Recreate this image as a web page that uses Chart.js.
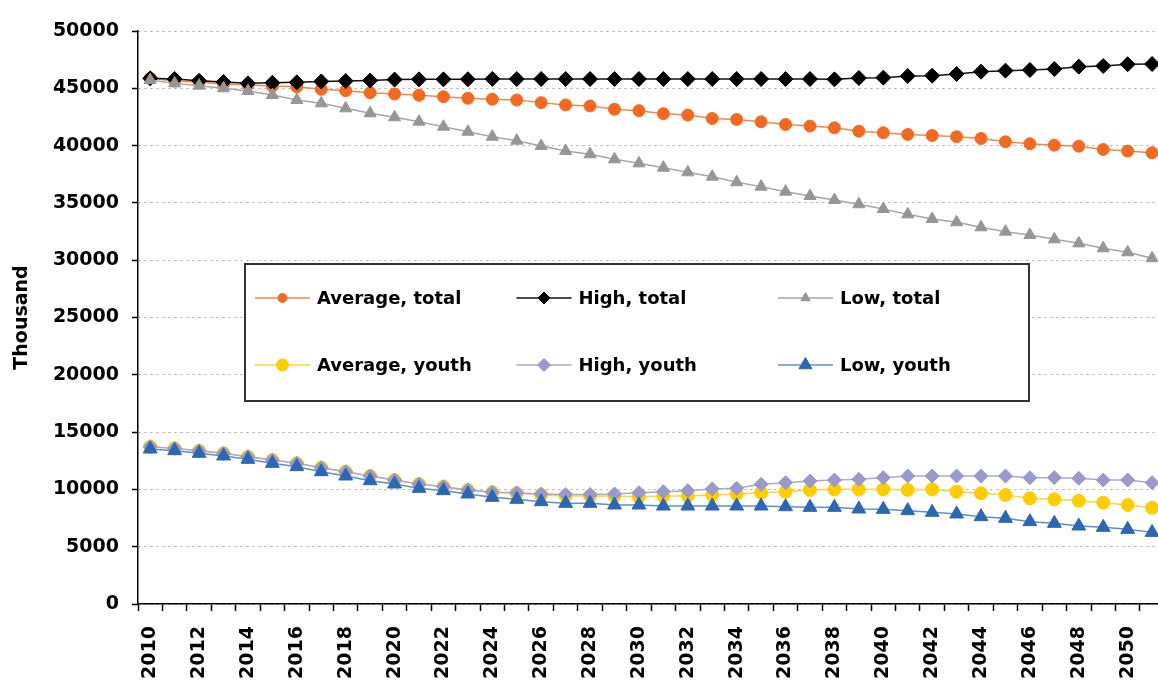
<!DOCTYPE html>
<html>
<head>
<meta charset="utf-8">
<title>Population projections</title>
<script src="https://cdn.jsdelivr.net/npm/chart.js"></script>
<style>
    html, body {
        margin: 0;
        padding: 0;
        background: #ffffff;
        overflow: hidden;
    }
    #wrap {
        position: relative;
        width: 1190px;
        height: 680px;
    }
</style>
</head>
<body>
<div id="wrap">
    <canvas id="chart"></canvas>
</div>
<script>
const years = [];
for (let y = 2010; y <= 2051; y++) {
    years.push(String(y));
}

const yTicks = { min: 0, max: 50000, step: 5000 };

const averageTotal = [
    45870, 45640, 45520, 45375, 45290, 45200, 45140, 44910, 44790, 44620, 44500,
    44390, 44270, 44130, 44040, 43980, 43750, 43550, 43460, 43170, 43050,
    42780, 42660, 42370, 42280, 42080, 41840, 41700, 41550, 41260, 41120,
    40970, 40880, 40770, 40620, 40330, 40160, 40040, 39950, 39660, 39520, 39370
];

const highTotal = [
    45870, 45810, 45660, 45550, 45430, 45480, 45520, 45600, 45640, 45680, 45760,
    45780, 45780, 45790, 45820, 45810, 45810, 45810, 45810, 45810, 45810,
    45810, 45810, 45810, 45810, 45810, 45810, 45810, 45780, 45900, 45930,
    46070, 46100, 46250, 46450, 46540, 46600, 46680, 46890, 46950, 47100, 47120
];

const lowTotal = [
    45720, 45430, 45230, 45000, 44760, 44420, 43980, 43690, 43250, 42820, 42470,
    42090, 41650, 41210, 40780, 40430, 39970, 39530, 39240, 38800, 38450,
    38070, 37670, 37290, 36800, 36420, 35980, 35600, 35250, 34880, 34470,
    34000, 33600, 33310, 32870, 32490, 32200, 31820, 31470, 31040, 30690, 30170
];

const averageYouth = [
    13730, 13580, 13380, 13150, 12855, 12565, 12275, 11895, 11545, 11170, 10820,
    10470, 10240, 9950, 9745, 9660, 9510, 9425, 9425, 9425, 9365,
    9425, 9425, 9510, 9600, 9715, 9800, 9950, 10005, 10005, 10005,
    9950, 10005, 9800, 9660, 9510, 9220, 9135, 9015, 8840, 8640, 8400
];

const highYouth = [
    13730, 13580, 13380, 13150, 12855, 12565, 12275, 11895, 11545, 11170, 10820,
    10470, 10240, 9950, 9760, 9700, 9600, 9550, 9560, 9600, 9715,
    9800, 9890, 10045, 10095, 10445, 10590, 10735, 10820, 10880, 11025,
    11170, 11170, 11170, 11170, 11170, 11025, 11025, 10965, 10820, 10820, 10590
];

const lowYouth = [
    13525, 13380, 13150, 12915, 12625, 12275, 11985, 11545, 11170, 10760, 10470,
    10095, 9890, 9600, 9310, 9135, 8930, 8785, 8785, 8640, 8640,
    8550, 8550, 8550, 8550, 8550, 8490, 8435, 8435, 8290, 8260,
    8145, 8000, 7855, 7620, 7475, 7185, 7040, 6805, 6690, 6515, 6250
];

const FONT = 'DejaVu Sans';


function makeSeries(label, data, lineColor, markColor, style, radius, legendRadius, order) {
    return {
        label,
        data,
        borderColor: lineColor,
        borderWidth: 1.5,
        pointStyle: style,
        pointRadius: radius,
        pointBackgroundColor: markColor,
        pointBorderColor: markColor,
        pointBorderWidth: 1,
        legendRadius,
        order,
        tension: 0
    };
}


// legend drawn as a framed box inside the plot, 3 columns x 2 rows
const boxLegend = {
    id: 'boxLegend',
    afterDraw(chart) {
        const ctx = chart.ctx;
        const area = chart.chartArea;
        const left = area.left + 107;
        const top = area.top + 233;
        const width = 784;
        const height = 137;

        ctx.save();
        ctx.fillStyle = '#ffffff';
        ctx.fillRect(left, top, width, height);
        ctx.strokeStyle = '#333333';
        ctx.lineWidth = 2;
        ctx.strokeRect(left, top, width, height);

        ctx.font = 'bold 18px "' + FONT + '"';
        ctx.textBaseline = 'middle';
        ctx.textAlign = 'left';

        chart.data.datasets.forEach((ds, i) => {
            const col = i % 3;
            const row = Math.floor(i / 3);
            const lx = left + 10 + col * 261.5;
            const ly = top + 34 + row * 67;

            ctx.strokeStyle = ds.borderColor;
            ctx.lineWidth = 1.5;
            ctx.beginPath();
            ctx.moveTo(lx, ly);
            ctx.lineTo(lx + 55, ly);
            ctx.stroke();

            ctx.fillStyle = ds.pointBackgroundColor;
            ctx.strokeStyle = ds.pointBorderColor;
            ctx.lineWidth = 1;
            Chart.helpers.drawPoint(ctx, {
                pointStyle: ds.pointStyle,
                radius: ds.legendRadius,
                rotation: 0,
                borderWidth: 1
            }, lx + 27.5, ly);

            ctx.fillStyle = '#000000';
            ctx.fillText(ds.label, lx + 62, ly + 1);
        });
        ctx.restore();
    }
};


const ctx = document.getElementById('chart').getContext('2d');

new Chart(ctx, {
    type: 'line',
    data: {
        labels: years,
        datasets: [
            makeSeries('Average, total', averageTotal, '#F7864B', '#F26A21', 'circle', 6, 4.5, 6),
            makeSeries('High, total', highTotal, '#111111', '#000000', 'rectRot', 7.5, 6, 5),
            makeSeries('Low, total', lowTotal, '#A6A6A6', '#969696', 'triangle', 7, 5.5, 4),
            makeSeries('Average, youth', averageYouth, '#FFD633', '#FFCC00', 'circle', 6.5, 6, 3),
            makeSeries('High, youth', highYouth, '#A9A9DA', '#9999CC', 'rectRot', 7, 6.5, 2),
            makeSeries('Low, youth', lowYouth, '#5B8ED6', '#2E67B1', 'triangle', 8, 7.5, 1)
        ]
    },
    options: {
        responsive: true,
        maintainAspectRatio: false,
        animation: false,
        layout: {
            padding: { top: 31, right: 0, bottom: 0, left: 0 }
        },
        plugins: {
            legend: { display: false },
            tooltip: { enabled: false }
        },
        scales: {
            x: {
                offset: true,
                afterFit: (scale) => { scale.height = 76; },
                grid: {
                    offset: true,
                    drawOnChartArea: false,
                    drawTicks: true,
                    tickLength: 7,
                    tickColor: '#000000',
                    tickWidth: 1.5
                },
                border: { color: '#000000', width: 1.5 },
                ticks: {
                    autoSkip: false,
                    minRotation: 90,
                    maxRotation: 90,
                    padding: 15,
                    color: '#000000',
                    font: { family: FONT, weight: 'bold', size: 19 },
                    callback: function (value, index) {
                        return index % 2 === 0 ? this.getLabelForValue(value) : '';
                    }
                }
            },
            y: {
                min: yTicks.min,
                max: yTicks.max,
                afterFit: (scale) => { scale.width = 138; },
                grid: {
                    color: '#A8A8A8',
                    lineWidth: 1,
                    tickLength: 6,
                    tickColor: '#000000',
                    tickWidth: 1.5
                },
                border: { color: '#000000', width: 1.5, dash: [2, 4] },
                ticks: {
                    stepSize: yTicks.step,
                    padding: 13,
                    color: '#000000',
                    font: { family: FONT, weight: 'bold', size: 19 },
                    callback: (value) => String(value)
                },
                title: {
                    display: true,
                    text: 'Thousand',
                    color: '#000000',
                    padding: { top: 11, bottom: 0 },
                    font: { family: FONT, weight: 'bold', size: 19 }
                }
            }
        }
    },
    plugins: [boxLegend]
});
</script>
</body>
</html>
